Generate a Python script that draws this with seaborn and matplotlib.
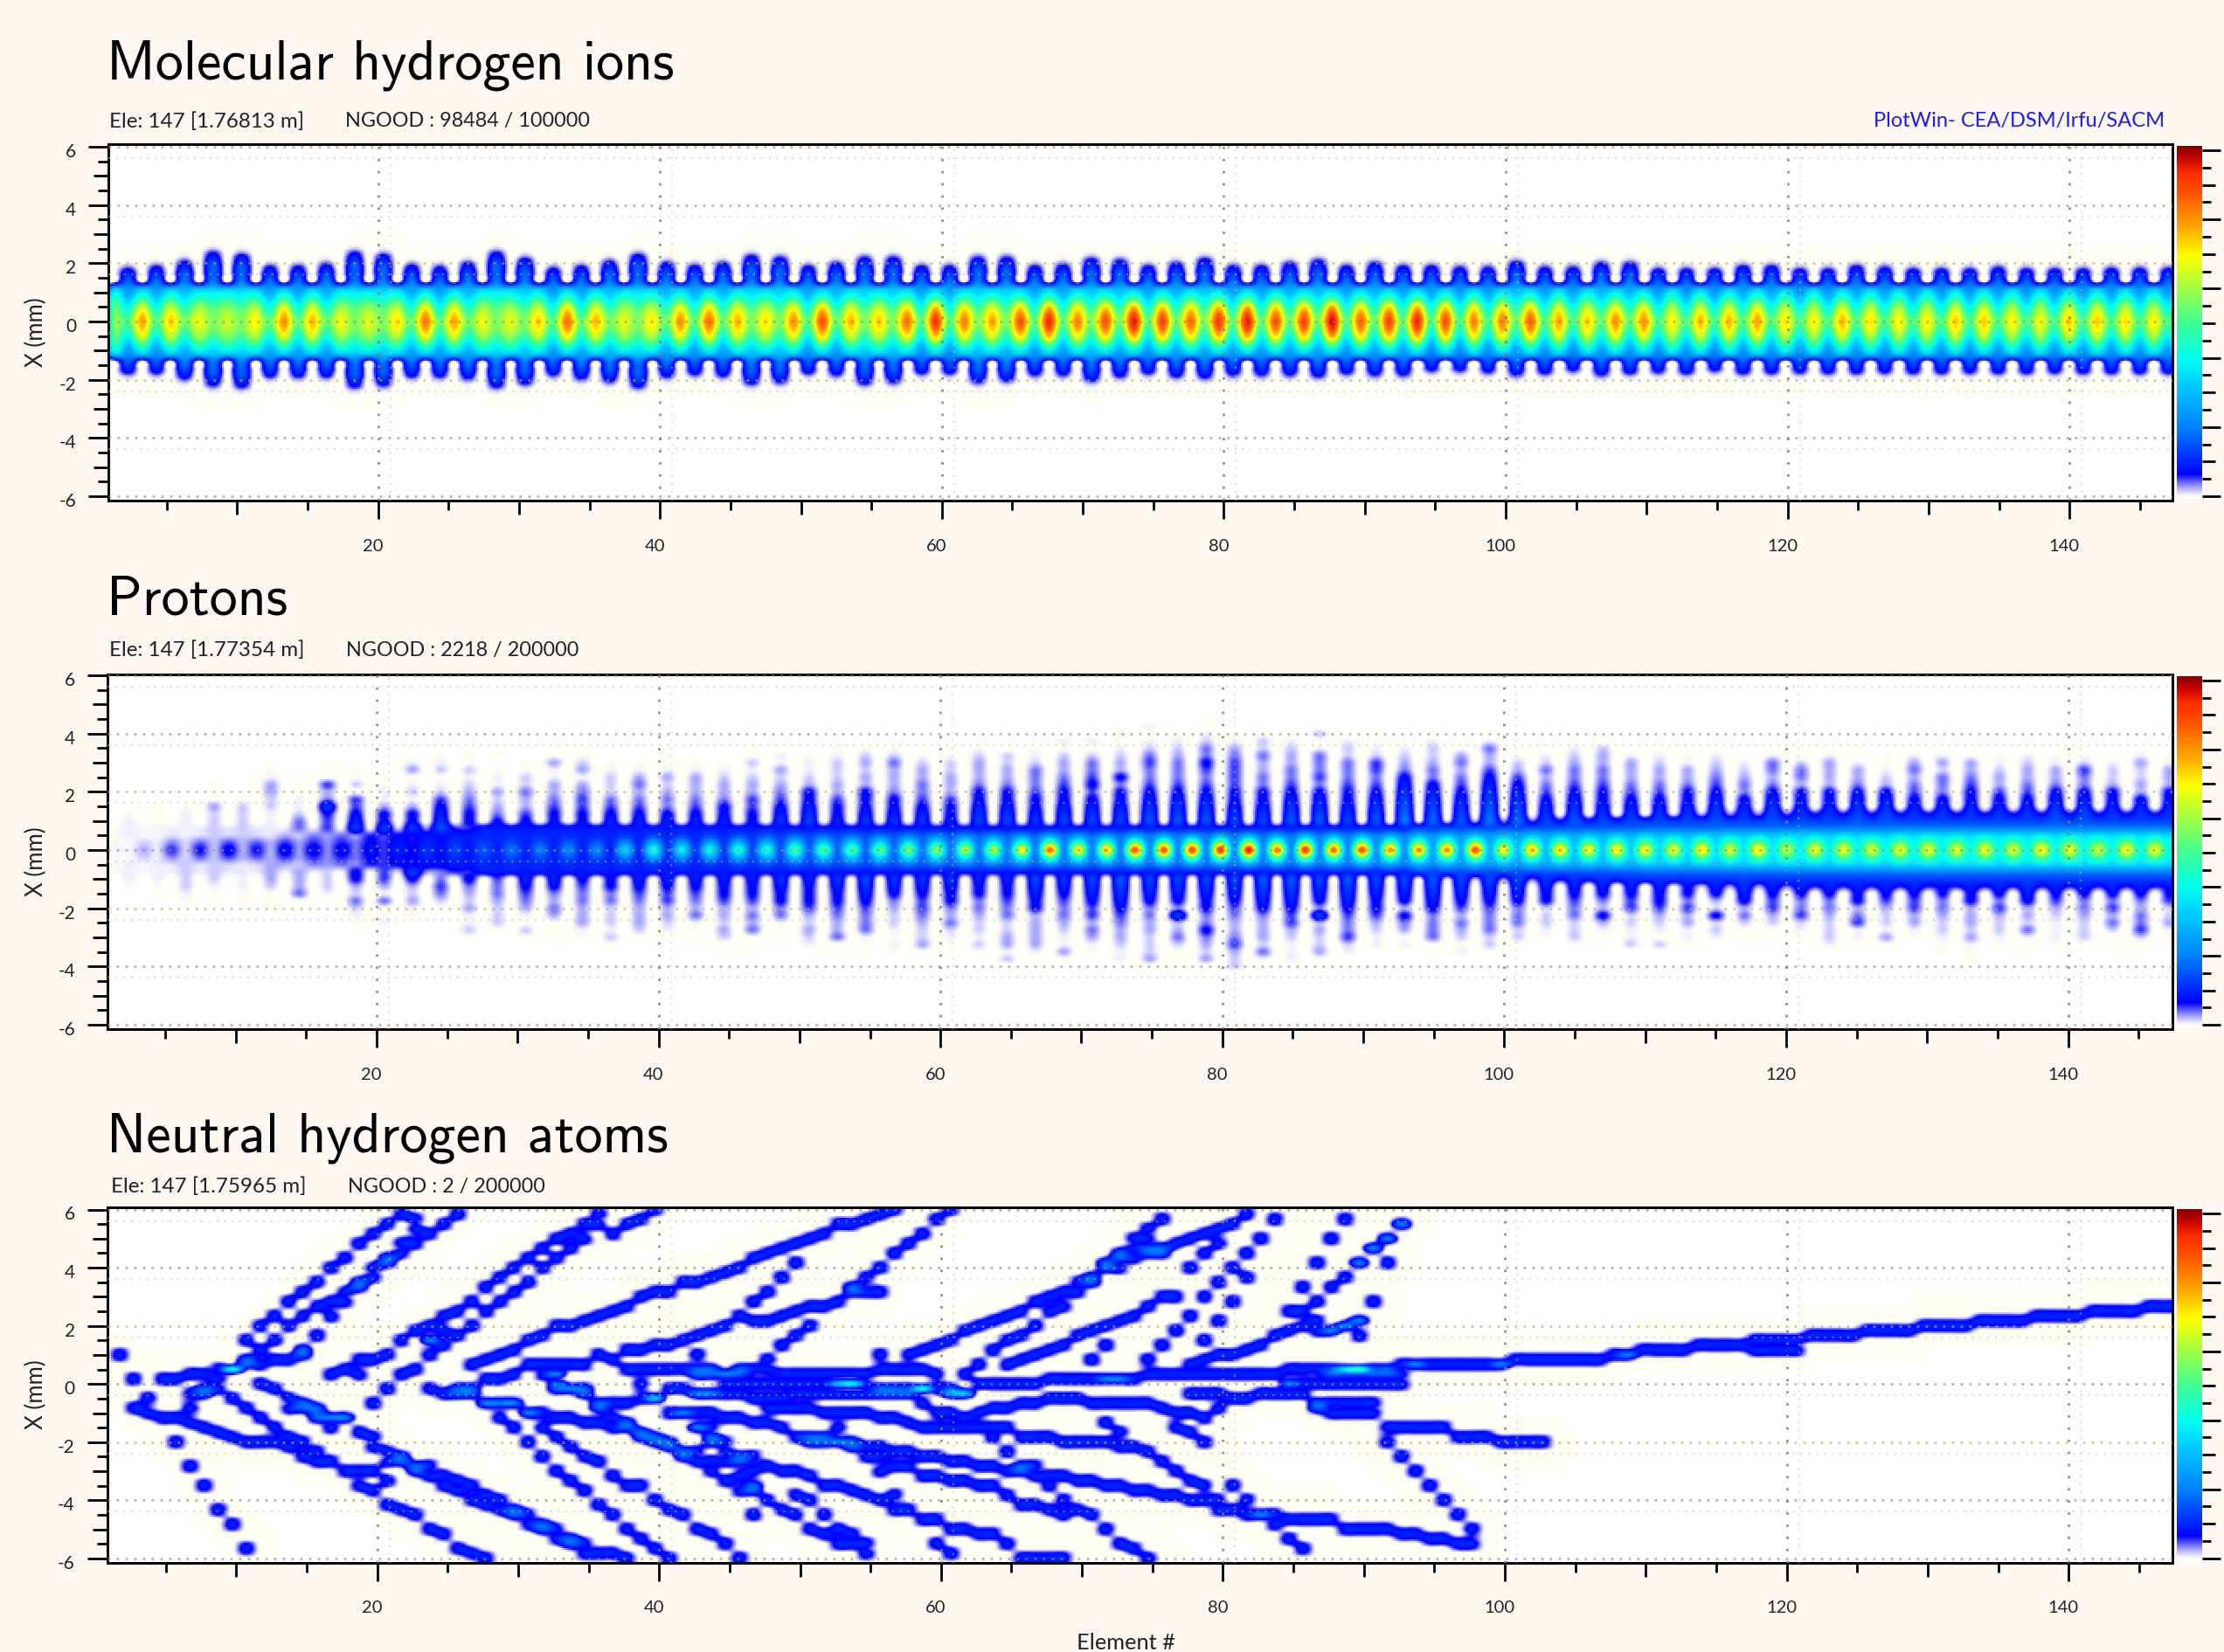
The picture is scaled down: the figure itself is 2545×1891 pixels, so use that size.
import numpy as np
import matplotlib
matplotlib.use("Agg")
import matplotlib.pyplot as plt
from matplotlib.colors import LinearSegmentedColormap
from matplotlib.transforms import ScaledTranslation
import seaborn as sns

W, H = 2545, 1891
BG = "#FFF8F2"

TITLES = ["Molecular hydrogen ions", "Protons", "Neutral hydrogen atoms"]
ELE = ["Ele: 147 [1.76813 m]", "Ele: 147 [1.77354 m]", "Ele: 147 [1.75965 m]"]
NGOOD = ["NGOOD : 98484 / 100000", "NGOOD : 2218 / 200000", "NGOOD : 2 / 200000"]

# ---- Molecular hydrogen ions: centre level of the bright column, one per two elements
H2_PEAK = [.55, .78, .74, .68, .64, .70, .80, .76, .68, .66, .72, .83, .78, .68, .67, .74, .84, .76, .67, .71, .80,
           .84, .76, .72, .80, .88, .76, .74, .84, .92, .82, .78, .88, .94, .82, .88, .96, .90, .85, .92, .96, .88, .90, .98, .86,
           .90, .94, .88, .82, .82, .86, .78, .74, .80, .80, .70, .76, .76, .78, .72, .70, .76, .72, .70, .70, .74, .74, .70, .68, .74,
           .74, .72, .70, .68]
# outer edge (mm) of the wide columns
H2_UP = [1.85, 1.92, 2.1, 2.4, 2.33, 1.92, 1.92, 2.0, 2.4, 2.33, 1.97, 1.9, 2.04, 2.4, 2.2, 1.86, 1.92, 2.1, 2.33, 2.04, 1.95,
         2.03, 2.28, 2.23, 1.93, 2.03, 2.23, 2.23, 1.93, 1.93, 2.23, 2.23, 1.93, 1.98, 2.18, 2.13, 1.93, 2.03, 2.18, 1.93, 1.93, 2.03, 2.13, 1.93, 2.03,
         1.93, 1.93, 1.88, 1.88, 2.08, 1.88, 1.88, 2.03, 2.03, 1.83, 1.83, 1.83, 1.93, 1.93, 1.83, 1.83, 1.93, 1.88, 1.83, 1.83, 1.83, 1.88, 1.83, 1.83, 1.83,
         1.85, 1.85, 1.85]
H2_DOWN = [1.81, 1.81, 2.0, 2.23, 2.28, 1.93, 1.93, 1.93, 2.28, 2.23, 1.93, 1.93, 2.0, 2.28, 2.17, 1.87, 2.0, 2.1, 2.28, 1.93, 1.85,
           1.9, 2.17, 2.12, 1.82, 1.87, 2.17, 2.12, 1.82, 1.82, 2.12, 2.07, 1.87, 1.87, 2.07, 1.92, 1.82, 1.92, 1.97, 1.87, 1.87, 1.87, 1.92, 1.82, 1.87,
           1.87, 1.72, 1.72, 1.77, 1.87, 1.82, 1.72, 1.87, 1.82, 1.77, 1.82, 1.72, 1.82, 1.8, 1.78, 1.8, 1.8, 1.78, 1.8, 1.8, 1.78, 1.8, 1.8, 1.78, 1.8,
           1.8, 1.8, 1.8]
H2_NOTCH = 1.42
H2_BETWEEN = .56
H2_INNER_Y = [0, .25, .5, .75, 1.0, 1.25, 1.4, 1.6, 2.6]
H2_INNER_V = [.50, .50, .48, .45, .38, .24, .19, .17, .17]
NOTCH_D = [-.3, -.15, 0, .1, .2]
NOTCH_V = [1, .6, .3, .1, 0]
FALL_D = [0, .1, .2, .35, .6]
FALL_V = [.075, .035, .015, .006, 0]
BLOB_Y = [0, .25, .5, .75, 1.0]
BLOB_V = [1, .85, .62, .22, 0]

# ---- Protons: centre level of the bright column, one per two elements
P_PEAK = [.01, .03, .06, .07, .08, .07, .085, .085, .085, .085, .10, .12, .14, .16, .19, .20, .22, .22, .33, .42,
          .38, .40, .43, .43, .50, .50, .50, .53, .56, .58, .62, .62, .70, .85, .72, .76, .88, .88, .90, .92, .95, .84, .92, .85, .88, .80,
          .80, .80, .88, .70, .76, .74, .70, .72, .70, .68, .72, .66, .72, .63, .68, .68, .66, .68, .68, .66, .68, .66, .70, .68, .64, .70, .68, .62]
P_BETWEEN = [.01, .015, .02, .025, .03, .03, .035, .04, .045, .06, .07, .08, .09, .10, .10, .10, .10, .10, .11, .12,
             .12, .13, .14, .15, .16, .17, .17, .18, .19, .19, .20, .20, .20, .21, .21, .21, .22, .22, .22, .22, .22, .22, .23, .23, .24, .24,
             .27, .28, .29, .30, .31, .32, .33, .34, .36, .36, .37, .38, .38, .39, .39, .40, .40, .41, .41, .41, .41, .41, .41, .41, .41, .41, .41, .41]
P_NOTCH = [.3, .35, .4, .45, .5, .5, .55, .6, .6, .65, .7, .75, .8, .85, .85, .85, .85, .85, .85, .85,
           .85, .85, .85, .85, .85, .85, .85, .85, .85, .85, .85, .85, .85, .85, .85, .85, .85, .85, .85, .85, .85, .85, .85, .85, .85, .85,
           .9, .92, .95, .98, 1.0, 1.05, 1.08, 1.1, 1.12, 1.15, 1.18, 1.2, 1.2, 1.22, 1.25, 1.25, 1.25, 1.25, 1.25, 1.25, 1.25, 1.25, 1.25, 1.25, 1.25, 1.25, 1.25, 1.25]
P_PALE = [.006, .008, .012, .012, .014, .014, .012, .012, .01, .008]
# density of each wide column going outward from 1 mm in 0.25 mm steps (0 empty ... 8 solid blue)
P_HALO_UP = ["21", "111", "221", "334101", "3331", "22334421", "532211", "6785461", "88661311", "8742211",
             "874232142", "9886321321", "8765432311", "7543422101", "864453311", "8765442241", "8766542431", "886533321",
             "886545421", "8855434211", "886544421", "887544321", "87664432311", "8886543422", "8888743221", "88764433321", "88877443431",
             "88875444531", "8886554431", "88764443311", "88887544431", "8888754433", "88876555321",
             "888876544312", "888867655312", "8888757443212", "88888655653212",
             "8888865554321", "8888865675532", "8888766665421", "8888755445331", "888886554432",
             "8888856555213", "888876555332", "888886566321", "88888885432",
             "888888554332", "88888654541", "888888864452", "8888886431",
             "8888654532", "88888655432", "88887655443", "8888654442", "8888654432",
             "8888754421", "8888865432", "888855432", "8888854552",
             "888874553", "8888744442", "888885442", "8888843211", "8888654542", "8888555342", "8888765441", "8888644321",
             "8888654432", "8888854421", "8888855631", "888874332", "8888443342", "8888744421"]
P_HALO_DOWN = ["21", "211", "3321", "3211", "2211", "43111", "4451", "332", "743532", "6425112", "843421", "56531",
               "854342231", "65543331", "886542131", "8854541", "865544421", "8755333231", "886544431", "88664432",
               "88654521", "887644343", "887645451", "88875521", "8877643432", "888765445", "8888655521",
               "88854332121", "88866543341", "8887545321", "88755433231", "887655334423", "88887444442", "888655432241",
               "88886645421", "888886544322", "888855443334", "88885844531", "888875575434", "8888654456433", "888885444352",
               "888886643222", "888858443341", "88888655632", "8888764322", "8888475412", "8888855551",
               "88886454312", "88886555331", "8888555331", "888733321", "8886553331", "88854742",
               "8886633223", "8887643213", "8875644221", "888437332", "88884531", "88866431", "88855632", "8885543332",
               "888745622", "8886433241", "888664421", "88755433211", "888744434211", "8885643321", "888844352",
               "8886432221", "888554333", "88856453", "888545563", "88763342"]
HALO_LEVEL = [0, .006, .012, .022, .032, .045, .058, .075, .12, .14]
P_CORE_Y = [0, .25, .5, .75, 1.0, 1.5]
P_CORE_V = [1, .95, .82, .5, .32, .32]
P_SPOT_V = [1, .52, .12, 0]

# ---- Neutral atoms: every track is a run of (element column, X in mm); a column holds until the next one
TRACKS = [
 [(4, -1.92), (5, -2.77), (6, -3.42), (7, -4.25), (8, -4.9), (9, -5.72), (10, -6.6)],
 [(0, 1.05), (1, -9)],
 [(1, .23), (2, -9)],
 [(3, .23), (5, .37), (6, .4), (7, .5), (8, .55), (9, .65), (10, .75), (11, .8), (12, .9), (13, .95), (14, -9)],
 [(2, -.44), (3, -9)],
 [(1, -.78), (2, -.93), (3, -1.2), (5, -1.3), (6, -1.45), (7, -1.6), (8, -1.76), (9, -2.0), (10, -2.07), (12, -2.23), (13, -2.43), (14, -2.6), (15, -2.75), (16, -3.05), (19, -3.26), (20, -9)],
 [(5, -.78), (6, -.3), (7, .15), (8, .55), (9, 1.55), (10, 2.0), (11, 2.38), (12, 2.87), (13, 3.2), (14, 3.52), (15, 4.0), (16, 4.37), (17, 4.84), (18, 5.18), (19, 5.5), (20, 5.9), (21, -9)],
 [(9, .83), (10, 1.2), (11, 1.55), (12, 1.92), (13, 2.28), (14, 2.6), (15, 2.9), (16, 3.2), (17, 3.5), (18, 3.94), (19, 4.35), (20, 4.8), (21, 5.28), (22, -9)],
 [(21, 5.75), (22, -9)],
 [(13, 1.2), (14, 1.7), (15, 2.38), (16, 2.85), (17, 3.26), (18, 3.6), (19, 4.2), (20, 4.5), (21, 4.8), (22, 5.18), (23, 5.5), (24, 5.82), (25, -9)],
 [(15, .36), (16, .52), (17, .41), (18, -9)],
 [(17, .83), (18, .88), (19, 1.04), (20, 1.45), (21, 1.81), (22, 2.05), (23, 2.38), (24, 2.54), (25, 2.85), (26, 3.26), (27, 3.63), (28, 3.94), (29, 4.35), (30, 4.66), (31, 5.08), (32, 5.18), (33, 5.44), (34, 5.8), (35, -9)],
 [(22, 1.05), (23, 1.4), (24, 1.71), (25, 2.02), (26, 2.54), (27, 2.85), (28, 3.16), (29, 3.52), (30, 4.04), (31, 4.35), (32, 4.71), (33, 5.08), (34, 5.5), (35, -9)],
 [(25, .72), (26, .88), (27, 1.04), (28, 1.14), (29, 1.55), (30, 1.7), (31, 1.92), (32, 2.02), (33, 2.18), (34, 2.38), (35, 2.54), (36, 2.75), (37, 2.95), (38, 3.16), (39, 3.2), (40, 3.42), (41, 3.55), (42, 3.7), (43, 3.78), (44, 3.98), (45, 4.33), (46, 4.48), (47, 4.68), (48, 4.83), (49, 4.98), (50, 5.13), (51, 5.43), (52, 5.53), (53, 5.68), (54, 5.83), (55, 5.98), (56, -9)],
 [(35, 5.18), (36, 5.5), (37, 5.7), (38, 6.0), (39, -9)],
 [(36, 1.09), (37, 1.2), (38, 1.4), (40, 1.55), (41, 1.7), (42, 1.8), (43, 1.93), (44, 2.33), (45, 2.23), (46, 2.18), (47, 2.38), (48, 2.48), (49, 2.63), (50, 2.68), (51, 2.88), (52, 3.13), (53, 3.18), (55, -9)],
 [(45, 2.88), (46, 3.18), (47, 3.68), (48, 4.18), (49, -9)],
 [(46, .88), (47, 1.38), (48, 1.73), (49, 2.03), (50, -9)],
 [(52, 3.33), (53, 3.68), (54, 4.03), (55, 4.53), (56, 4.83), (57, 5.18), (58, 5.68), (59, 5.98), (60, -9)],
 [(54, 1.03), (55, -9)],
 [(56, 1.03), (57, 1.23), (58, 1.38), (59, 1.53), (60, 1.88), (61, 2.08), (62, 2.23), (63, 2.38), (64, 2.58), (65, 2.83), (66, 2.93), (67, 3.18), (68, 3.43), (69, 3.73), (70, 4.13), (71, 4.53), (72, 4.98), (74, -9)],
 [(71, 3.98), (72, 4.28), (73, 4.43), (74, 4.48), (75, 4.88), (76, 5.03), (77, 5.18), (78, 5.33), (79, 5.43), (80, 5.78), (81, -9)],
 [(63, .73), (64, .88), (65, 1.03), (66, 1.18), (67, 1.38), (68, 1.73), (69, 1.83), (70, 1.98), (71, 2.23), (72, 2.33), (73, 2.68), (74, 3.03), (76, -9)],
 [(73, 5.33), (74, 5.68), (75, -9)],
 [(69, .88), (70, 1.38), (71, -9)],
 [(73, .88), (74, 1.38), (75, 1.88), (76, 2.38), (77, 3.03), (78, 3.48), (79, 4.03), (80, 4.53), (81, 4.98), (82, 5.68), (83, -9)],
 [(76, 3.98), (77, 4.53), (78, 4.83), (79, -9)],
 [(77, 1.53), (78, 2.18), (79, 2.85), (80, 3.68), (81, -9)],
 [(76, .63), (77, .83), (78, .98), (79, 1.03), (80, 1.13), (81, 1.33), (82, 1.63), (83, 1.83), (84, 1.93), (85, 1.88), (87, 2.03), (88, 2.23), (89, -9)],
 [(83, 2.53), (85, -9)],
 [(85, 2.88), (86, -9)],
 [(84, 3.35), (85, 4.18), (86, 4.98), (87, 5.68), (88, -9)],
 [(86, 3.33), (87, 3.68), (88, 4.18), (89, 4.65), (90, 4.98), (91, 5.48), (92, -9)],
 [(89, 2.85), (90, -9)],
 [(90, 4.18), (91, -9)],
 [(88, 1.68), (89, -9)],
 [(61, .73), (62, 1.13), (63, 1.48), (64, 1.73), (65, 2.03), (66, 2.43), (67, 2.73), (68, 3.1), (69, 3.43), (70, 4.03), (71, 4.38), (72, 4.63), (75, -9)],
 [(10, .05), (11, -.1), (12, -.47), (13, -.67), (14, -.78), (15, -1.2), (16, -1.24), (17, -1.66), (18, -1.81), (19, -9)],
 [(8, -.47), (9, -.78), (10, -1.14), (11, -1.45), (12, -1.76), (13, -2.07), (14, -2.38), (15, -9)],
 [(18, -2.23), (19, -2.38), (20, -2.54), (21, -2.8), (22, -2.9), (23, -3.2), (24, -3.3), (25, -3.47), (26, -3.83), (27, -3.94), (28, -4.3), (29, -4.46), (30, -4.82), (31, -4.92), (32, -5.28), (33, -5.44), (34, -5.8), (35, -5.9), (36, -6.0), (37, -9)],
 [(19, -2.6), (20, -2.75), (21, -3.0), (22, -3.16), (23, -3.42), (24, -3.63), (25, -3.94), (26, -4.09), (27, -4.4), (28, -4.56), (29, -4.87), (30, -5.08), (31, -5.39), (32, -5.54), (33, -5.9), (34, -9)],
 [(17, -3.42), (18, -3.73), (19, -4.09), (20, -4.25), (21, -4.56), (22, -4.92), (23, -5.23), (24, -5.6), (25, -5.9), (26, -6.0), (27, -9)],
 [(26, -.67), (27, -1.24), (28, -1.55), (29, -2.07), (30, -2.44), (31, -2.95), (32, -3.26), (33, -3.73), (34, -4.09), (35, -4.56), (36, -4.92), (37, -5.39), (38, -5.7), (39, -6.0), (40, -9)],
 [(27, -.67), (29, -.93), (30, -1.45), (31, -1.76), (32, -2.12), (33, -2.44), (34, -2.75), (35, -3.1), (36, -3.42), (37, -3.58), (38, -3.94), (39, -4.25), (40, -4.56), (41, -4.92), (42, -5.2), (43, -5.57), (44, -5.92), (45, -9)],
 [(31, -.05), (32, -.2), (33, -.36), (34, -.78), (35, -1.09), (36, -1.3), (37, -1.6), (38, -1.97), (39, -2.18), (40, -2.44), (41, -2.75), (42, -2.92), (43, -3.32), (44, -3.72), (46, -3.92), (47, -4.27), (48, -4.57), (49, -4.92), (50, -5.22), (51, -5.47), (52, -5.57), (53, -5.82), (54, -9)],
 [(45, -4.57), (46, -9)],
 [(48, -3.77), (49, -4.07), (50, -4.42), (51, -4.92), (52, -5.22), (53, -5.57), (54, -9)],
 [(26, -.72), (29, -.95), (31, -1.24), (33, -1.4), (35, -1.55), (37, -1.76), (39, -2.07), (40, -2.28), (42, -9)],
 [(41, -.97), (43, -1.22), (45, -1.37), (47, -1.57), (48, -1.77), (51, -1.97), (53, -2.17), (55, -2.32), (57, -2.47), (59, -2.62), (61, -2.77), (63, -2.97), (65, -3.12), (68, -3.27), (70, -3.42), (72, -3.62), (74, -3.87), (76, -4.07), (78, -4.27), (80, -4.47), (83, -4.62), (85, -4.72), (87, -4.92), (89, -5.07), (91, -5.22), (93, -5.37), (95, -5.57), (97, -9)],
 [(46, -.77), (50, -.97), (53, -1.02), (54, -1.12), (55, -1.17), (56, -1.37), (57, -1.5), (59, -1.42), (62, -1.57), (64, -1.77), (67, -1.97), (71, -2.12), (73, -2.27), (74, -2.62), (75, -2.92), (76, -3.27), (77, -3.57), (78, -3.97), (79, -3.5), (80, -3.92), (81, -4.47), (82, -4.87), (83, -5.37), (84, -5.75), (85, -9)],
 [(51, -1.47), (52, -9)],
 [(70, -1.32), (71, -1.62), (72, -9)],
 [(75, -1.47), (76, -1.67), (77, -1.97), (78, -9)],
 [(41, .38), (44, .43), (47, .4), (50, .33), (53, .38), (54, .43), (55, .53), (56, .45), (58, .38), (59, -9)],
 [(60, .38), (61, -9)],
 [(43, .03), (54, -.12), (57, -.22), (60, -.27), (61, -.07), (64, .03), (66, .18), (71, .23), (73, .33), (76, .38), (83, .53), (85, .43), (89, .48), (91, .63), (96, .68), (99, .78), (103, .85), (106, .98), (108, 1.18), (112, 1.33), (116, 1.43), (120, 1.68), (124, 1.83), (128, 2.01), (132, 2.18), (136, 2.35), (140, 2.51), (144, 2.68), (147, -9)],
 [(116, 1.18), (120, -9)],
 [(84, .03), (92, -9)],
 [(86, .28), (92, -9)],
 [(41, -.32), (43, -.37), (45, -.47), (48, -.27), (55, -.37), (57, -.62), (58, -.97), (60, -1.17), (61, -1.02), (62, -.77), (64, -.67), (66, -.57), (69, -.67), (74, -.77), (75, -1.07), (77, -1.12), (78, -.77), (79, -.52), (81, -.37), (85, -.62), (90, -9)],
 [(76, -.32), (79, -9)],
 [(85, -.87), (86, -1.02), (89, -1.07), (90, -1.42), (93, -1.52), (95, -1.77), (97, -1.87), (98, -1.97), (100, -2.06), (102, -9)],
 [(90, -1.92), (91, -2.42), (92, -2.92), (93, -3.42), (94, -4.07), (95, -4.57), (96, -5.07), (97, -9)],
 [(85, 2.18), (86, 1.83), (87, 2.03), (88, 2.18), (89, -9)],
 [(88, 4.18), (89, 4.65), (90, 4.98), (91, 5.48), (92, -9)],
 [(55, -4.27), (57, -4.67), (59, -4.92), (61, -5.22), (63, -5.57), (64, -5.92), (66, -6.0), (68, -9)],
 [(42, -2.07), (43, -2.37), (44, -2.57), (46, -2.82), (47, -3.02), (49, -3.22), (50, -3.47), (52, -3.67), (53, -3.87), (54, -4.07), (55, -3.77), (56, -9)],
 [(49, -1.97), (52, -2.17), (53, -2.52), (55, -2.82), (57, -3.17), (59, -3.32), (61, -3.57), (63, -3.87), (64, -4.12), (66, -4.27), (67, -4.42), (68, -4.27), (69, -4.57), (70, -5.07), (71, -5.42), (72, -5.72), (73, -6.0), (74, -9)],
 [(54, -3.07), (55, -9)],
 [(58, -5.42), (59, -5.87), (60, -9)],
 [(64, -2.87), (66, -3.42), (67, -3.92), (68, -9)],
 [(62, -1.87), (63, -2.27), (64, -9)],
 [(41, -1.57), (43, -2.07), (44, -2.6), (45, -3.0), (46, -9)],
 [(42, -2.62), (44, -3.22), (45, -3.57), (46, -9)],
 [(19, -.1), (20, .31), (21, .52), (22, -.1), (23, -.41), (25, -.26), (26, .2), (28, .31), (29, .62), (33, .62), (34, 1.04), (35, .83), (36, .57), (41, .47), (43, .3), (45, -9)],
 [(18, -.62), (19, -9)],
 [(24, -.1), (26, -9)],
 [(30, .36), (31, -9)],
 [(31, -.1), (34, -.6), (37, -.47), (39, -.93), (40, -.98), (41, -1.55), (42, -1.9), (43, -9)],
 [(37, 0), (38, -9)],
 [(39, -.2), (41, -.31), (43, -9)],
 [(41, 1.05), (42, -9)],
 [(12, -.78), (14, -.93), (15, -9)],
 [(14, -1.24), (15, -1.45), (16, -1.24), (17, -9)],
 [(6, -.2), (7, -.1), (8, -9)],
 [(5, -.41), (6, -9)],
]
# (column, X in mm, extra particles) where overlapping tracks reach cyan or green
HOT_SPOTS = [(8, .55, 2), (15, -1.2, 1), (22, 1.5, 2), (23, 1.9, 1), (31, .36, 2), (38, -.47, 2), (40, -.98, 1),
             (51, .03, 2), (52, .03, 3), (57, -.22, 3), (59, -.27, 2), (60, -.27, 2), (70, .18, 1), (71, .2, 1),
             (87, .43, 2), (88, .43, 3), (83, .03, 2), (92, .63, 1), (98, .68, 1), (107, .98, 1)]
NEUTRAL_LEVEL = .1
NEUTRAL_SPREAD = .7

# ---- Axis ticks
Y_TICKS = [-6, -4, -2, 0, 2, 4, 6]
X_LABELS = [20, 40, 60, 80, 100, 120, 140]

CMAP_POS = [0, .0035, .012, .035, .07, .10, .20, .33, .40, .50, .58, .69, .76, .87, .92, .97, 1]
CMAP_COL = ["#FFFFFF", "#FFFEF0", "#F0EEFF", "#9A9AFF", "#0000FF", "#0020FF", "#0080FF", "#00D0FF", "#00FFEE", "#40FF90", "#90FF50",
            "#FFFF00", "#FFB000", "#FF5000", "#FF3000", "#C00000", "#800000"]
cmap = LinearSegmentedColormap.from_list("plotwin", list(zip(CMAP_POS, CMAP_COL)), N=1024)


def cubic(arr, src0, step, dst, axis):
    """Catmull-Rom resampling of arr along one axis, empty outside the grid."""
    a = np.moveaxis(arr, axis, 0)
    a = np.concatenate([np.zeros((2,) + a.shape[1:]), a, np.zeros((2,) + a.shape[1:])])
    t = (dst - src0) / step + 2
    i = np.clip(np.floor(t).astype(int), 1, a.shape[0] - 3)
    f = np.clip(t - i, 0, 1)
    sh = (-1,) + (1,) * (a.ndim - 1)
    f = f.reshape(sh)
    out = (a[i - 1] * (-.5 * f + f**2 - .5 * f**3) + a[i] * (1 - 2.5 * f**2 + 1.5 * f**3)
           + a[i + 1] * (.5 * f + 2 * f**2 - 1.5 * f**3) + a[i + 2] * (-.5 * f**2 + .5 * f**3))
    return np.moveaxis(out, 0, axis)


def block_tint(fine, size, level):
    """Pale square blocks around every drawn mark, as the compressed original has."""
    ny, nx = fine.shape
    ry, rx = ny // size + 1, nx // size + 1
    mask = np.zeros((ry, rx), bool)
    yy, xx = np.nonzero(fine > .03)
    mask[yy // size, xx // size] = True
    grown = mask.copy()
    grown[1:] |= mask[:-1]
    grown[:-1] |= mask[1:]
    grown[:, 1:] |= mask[:, :-1]
    grown[:, :-1] |= mask[:, 1:]
    tint = np.kron(grown, np.ones((size, size)))[:ny, :nx] * level
    return np.maximum(fine, tint)


def h2_grid():
    ys = np.arange(-3.5, 3.501, .125)
    grid = np.zeros((len(ys), 147))
    for i in range(147):
        k = i // 2
        for r, y in enumerate(ys):
            a = abs(y)
            inner = np.interp(a, H2_INNER_Y, H2_INNER_V)
            if i % 2 == 0:
                v = min(inner, .13 + (1.3 - a) * 1.5) * np.interp(a - H2_NOTCH, NOTCH_D, NOTCH_V)
                v += (H2_PEAK[k] - .5) * np.interp(a, BLOB_Y, BLOB_V)
            else:
                j = min(k, len(H2_UP) - 1)
                edge = (H2_UP[j] if y > 0 else H2_DOWN[j]) - .05
                if a > edge:
                    v = np.interp(a - edge, FALL_D, FALL_V)
                else:
                    v = min(inner, .075 + .11 * (edge - a) / .5)
                v += (H2_BETWEEN - .5) * np.interp(a, BLOB_Y, BLOB_V)
            grid[r, i] = v
    return ys, grid


def proton_grid():
    ys = np.arange(-6, 6.001, .25)
    grid = np.zeros((len(ys), 147))
    for i in range(147):
        k = min(i // 2, len(P_PEAK) - 1)
        c, p, w = P_BETWEEN[k], P_PEAK[k], P_NOTCH[k]
        for r, y in enumerate(ys):
            a = abs(y)
            plateau = min(.1, c)
            core = max(plateau, c * np.interp(a, P_CORE_Y, P_CORE_V))
            core *= np.clip((w - a) / .25 + .5, 0, 1)
            if k < len(P_PALE) and a < .9:
                core = max(core, P_PALE[k])
            if i % 2 == 0:
                v = core + max(p - c, 0) * np.interp(a, [0, .25, .5, .75], P_SPOT_V)
            else:
                halo = P_HALO_UP if y > 0 else P_HALO_DOWN
                s = halo[min(k, len(halo) - 1)]
                idx = max(int(round((a - 1) / .25)), 0)
                h = HALO_LEVEL[int(s[idx])] if idx < len(s) else 0
                # a solid stalk narrows toward its tip
                run = len(s) - len(s.lstrip("89"))
                if idx < run:
                    h = .08 + .018 * (run - 1 - idx)
                if a < 1 and a >= w:
                    h = HALO_LEVEL[int(s[0])]
                elif a < 1:
                    h = 0
                v = max(core, h)
            grid[r, i] = v
    return ys, grid


def neutral_grid():
    ys = np.arange(-37, 38) / 6.0
    count = np.zeros((len(ys), 148))
    for tr in TRACKS:
        for (c0, y0), (c1, _) in zip(tr[:-1], tr[1:]):
            if abs(y0) > 6.2:
                continue
            r = int(round(y0 * 6)) + 37
            count[r, c0:max(c1, c0 + 1)] += 1
    count = np.minimum(count, 2)
    for c, y, n in HOT_SPOTS:
        count[int(round(y * 6)) + 37, c] += n
    up = np.zeros_like(count)
    up[1:] += count[:-1]
    up[:-1] += count[1:]
    return ys, (count + NEUTRAL_SPREAD * np.minimum(up, 1.0)) * NEUTRAL_LEVEL


def px_axes(fig, l, t, r, b):
    return fig.add_axes([l / W, 1 - b / H, (r - l) / W, (b - t) / H])


sns.set_theme(style="white")
plt.rcParams["font.family"] = ["Lato", "DejaVu Sans"]
fig = plt.figure(figsize=(W / 100, H / 100), dpi=100, facecolor=BG)

PANELS = [
    dict(l=124, t=165, b=573, x20=432.6, y6=168, ym6=568, c0=1.275, w=1.005, maker=h2_grid, title_y=90, sub_y=139, sub_x=125, ng_x=395),
    dict(l=123, t=772, b=1178, x20=431, y6=773, ym6=1173, c0=1.45, w=1.005, maker=proton_grid, title_y=703, sub_y=744, sub_x=125, ng_x=396),
    dict(l=122.5, t=1382, b=1788.5, x20=431.6, y6=1384.5, ym6=1784, c0=1.7, w=1.0, maker=neutral_grid, title_y=1318, sub_y=1358, sub_x=127, ng_x=398),
]
RIGHT = 2486
PX_EL = 16.13

for n, P in enumerate(PANELS):
    ax = px_axes(fig, P["l"], P["t"], RIGHT, P["b"])
    cax = px_axes(fig, 2491, P["t"] + 2, 2520, P["b"] - 2)
    ys, grid = P["maker"]()
    px_mm = (P["ym6"] - P["y6"]) / 12
    xmin = 20 - (P["x20"] - P["l"]) / PX_EL
    xmax = 20 + (RIGHT - P["x20"]) / PX_EL
    ymax = 6 + (P["y6"] - P["t"]) / px_mm
    ymin = -6 - (P["b"] - P["ym6"]) / px_mm
    nx, ny = int((RIGHT - P["l"]) / 2), int((P["b"] - P["t"]) / 2)
    xf = xmin + (np.arange(nx) + .5) / nx * (xmax - xmin)
    yf = ymax - (np.arange(ny) + .5) / ny * (ymax - ymin)
    fine = cubic(grid, P["c0"], P["w"], xf, 1)
    fine = cubic(fine, ys[0], ys[1] - ys[0], yf, 0)
    fine = block_tint(np.clip(fine, 0, 1), 8, .0035 if n == 2 else .002)
    sns.heatmap(fine, ax=ax, cbar_ax=cax, cmap=cmap, vmin=0, vmax=1, xticklabels=False, yticklabels=False, rasterized=True)

    X = lambda v: (np.asarray(v, float) - xmin) / (xmax - xmin) * nx
    Y = lambda v: (ymax - np.asarray(v, float)) / (ymax - ymin) * ny

    # faint echoes and dotted grid lines
    for v in Y_TICKS:
        yy = Y(v)
        ax.axhline(yy + 6.5, color="#BDBDBD", lw=1.6, ls=(0, (1, 3)), alpha=.5, zorder=3)
        col = "#B7AE6E" if abs(v) == 2 else "#8E8E8E"
        ax.axhline(yy, color=col, lw=2.0, ls=(0, (1, 2.6)), alpha=.65, zorder=3)
    for v in X_LABELS:
        xx = X(v)
        ax.axvline(xx + 7, color="#C8C8C8", lw=1.6, ls=(0, (1, 3)), alpha=.5, zorder=3)
        ax.axvline(xx, color="#7E7E7E", lw=2.0, ls=(0, (1, 4)), alpha=.85, zorder=3)

    for s in ax.spines.values():
        s.set_visible(True)
        s.set_color("black")
        s.set_linewidth(2.1)
    ax.set_xlabel("")
    ax.set_ylabel("")

    xv = list(range(5, 146, 5))
    ax.set_xticks(X(xv))
    ax.set_xticklabels([str(v) if v % 20 == 0 else "" for v in xv], fontsize=14.5, color="#222222", rotation=0)
    ax.tick_params(axis="x", bottom=True, top=False, width=2, length=15, pad=23 * .72, color="black", labelbottom=True)
    for v, t in zip(xv, ax.xaxis.get_major_ticks()):
        t.tick1line.set_markersize((21 if v % 20 == 0 else 16 if v % 10 == 0 else 11) * .72)
    off = ScaledTranslation(-6 / 100, 0, fig.dpi_scale_trans)
    for lab in ax.get_xticklabels():
        lab.set_transform(lab.get_transform() + off)

    yv = [-6 + .5 * j for j in range(25)]
    ax.set_yticks(Y(yv))
    ax.set_yticklabels([str(int(v)) if v % 2 == 0 else "" for v in yv], fontsize=15, color="#222222", rotation=0)
    ax.tick_params(axis="y", left=True, right=False, width=2, length=15, pad=16 * .72, color="black", labelleft=True)
    for v, t in zip(yv, ax.yaxis.get_major_ticks()):
        t.tick1line.set_markersize((23 if v % 2 == 0 else 17 if v % 1 == 0 else 12) * .72)
    off = ScaledTranslation(0, -4 / 100, fig.dpi_scale_trans)
    for lab in ax.get_yticklabels():
        lab.set_transform(lab.get_transform() + off)

    cb = ax.collections[0].colorbar
    cb.outline.set_visible(False)
    cb.set_ticks([.0074 + j * .049 for j in range(21)])
    cb.ax.tick_params(axis="y", which="major", right=True, left=False, labelright=False, width=2, length=10, color="black")
    cb.ax.minorticks_off()
    for j, t in enumerate(cb.ax.yaxis.get_major_ticks()):
        t.tick2line.set_markersize((21 if j % 4 == 0 else 15 if j % 2 == 0 else 10) * .72)

    fig.text(122 / W, 1 - P["title_y"] / H, TITLES[n], fontsize=46, family="cmss10", color="black", va="baseline", ha="left")
    fig.text(P["sub_x"] / W, 1 - P["sub_y"] / H, ELE[n], fontsize=17.4, color="#222222", va="center", ha="left")
    fig.text(P["ng_x"] / W, 1 - P["sub_y"] / H, NGOOD[n], fontsize=16.8, color="#222222", va="center", ha="left")
    fig.text(41 / W, 1 - ((P["t"] + P["b"]) / 2 + 11) / H, "X (mm)", rotation=90, fontsize=18.5, color="#222222", va="center", ha="center")

fig.text(2477 / W, 1 - 139 / H, "PlotWin- CEA/DSM/Irfu/SACM", fontsize=17, color="#1A1AFF", va="center", ha="right")
fig.text(1288 / W, 1 - 1881 / H, "Element #", fontsize=18.3, color="#222222", va="center", ha="center")

fig.savefig("out.png", dpi=100, facecolor=BG)
